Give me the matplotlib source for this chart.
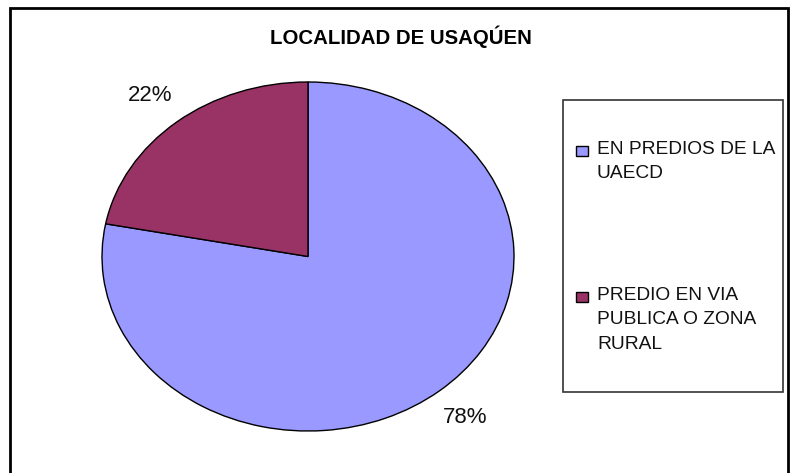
import matplotlib.pyplot as plt
from matplotlib.patches import Rectangle

# data
categories = ['EN PREDIOS DE LA\nUAECD', 'PREDIO EN VIA\nPUBLICA O ZONA\nRURAL']
values = [78, 22]
colors = ['#9999FF', '#993366']
title = 'LOCALIDAD DE USAQÚEN'

W, H = 796, 473
plt.rcParams['font.family'] = ['Liberation Sans', 'DejaVu Sans']

fig = plt.figure(figsize=(W / 100, H / 100), dpi=100)


def fx(px):
    return px / W


def fy(py):
    # py counted from the top of the image
    return 1 - py / H


# outer chart frame (bottom edge runs off the picture)
fig.patches.append(Rectangle((fx(10), fy(480)), fx(778), (480 - 8) / H,
                             transform=fig.transFigure, fill=False,
                             edgecolor='black', linewidth=2.0))

# pie area, stretched into an ellipse like the original
ax = fig.add_axes([fx(102), fy(431), fx(412), (431 - 82) / H])
wedges, texts, autotexts = ax.pie(values, colors=colors, startangle=90, counterclock=False,
                                  autopct='%1.0f%%', pctdistance=1.2, radius=1.0,
                                  wedgeprops=dict(edgecolor='black', linewidth=1.0),
                                  textprops=dict(fontsize=16, color='#111111'))
ax.set_aspect('auto')
ax.set_xlim(-1, 1)
ax.set_ylim(-1, 1)

fig.text(fx(401), fy(37), title, ha='center', va='center', fontsize=14.7, fontweight='bold')

# legend drawn by hand to keep the Excel spacing
fig.patches.append(Rectangle((fx(563), fy(392)), fx(220), (392 - 100) / H,
                             transform=fig.transFigure, fill=False,
                             edgecolor='#333333', linewidth=1.2))
entry_top = [141, 287]
for lab, col, top in zip(categories, colors, entry_top):
    fig.patches.append(Rectangle((fx(576), fy(top + 15)), fx(12), 10 / H,
                                 transform=fig.transFigure, facecolor=col,
                                 edgecolor='black', linewidth=1.0))
    fig.text(fx(597), fy(top), lab, ha='left', va='top', fontsize=13.8,
             linespacing=1.56, color='#111111')

fig.savefig('out.png', dpi=100)
